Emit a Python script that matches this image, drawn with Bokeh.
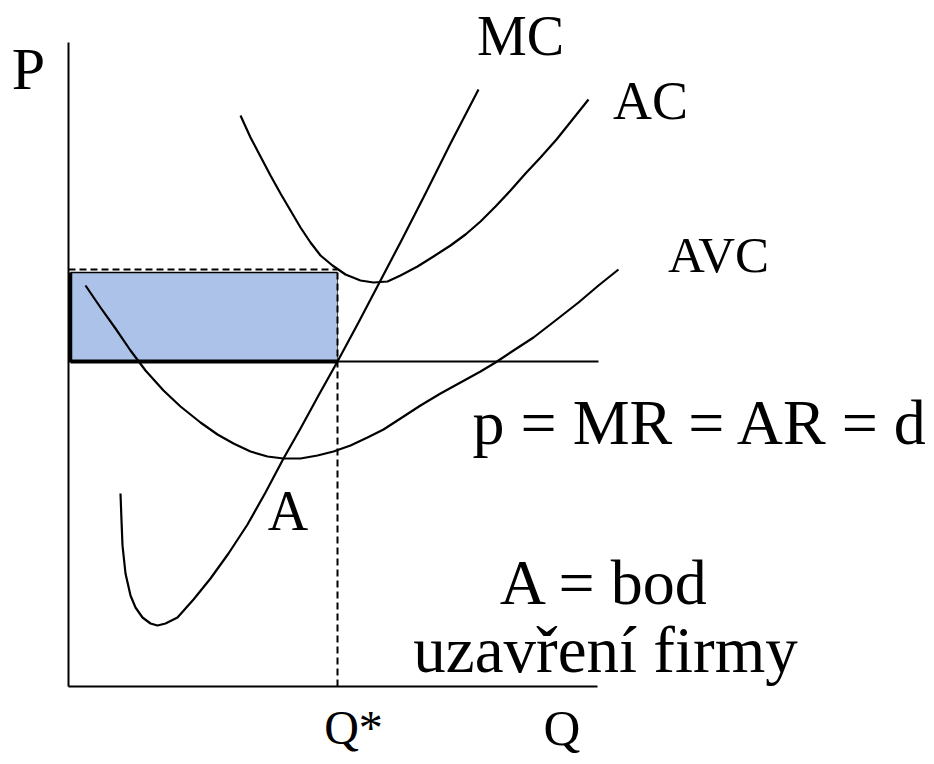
from bokeh.plotting import figure
from bokeh.models import Range1d
from bokeh.embed import file_html
from bokeh.resources import INLINE
from bokeh.core.properties import value

# ---- data (arbitrary units) ----
mc_q = [2.08, 2.12, 2.16, 2.28, 2.48, 2.68, 2.96, 3.28, 3.56, 3.88, 4.36, 5.00,
        5.68, 6.40, 7.16, 7.88, 8.60, 9.28, 10.00, 10.76, 11.60, 12.48, 13.36,
        14.28, 15.28, 16.40]
mc_p = [7.72, 6.64, 5.64, 4.52, 3.64, 3.16, 2.76, 2.52, 2.44, 2.52, 2.76, 3.48,
        4.32, 5.32, 6.48, 7.76, 9.12, 10.32, 11.64, 13.00, 14.56, 16.24, 17.92,
        19.72, 21.72, 23.88]

ac_q = [6.88, 7.28, 7.68, 8.08, 8.48, 8.88, 9.28, 9.68, 10.08, 10.56, 11.08,
        11.68, 12.20, 12.76, 13.28, 13.96, 14.60, 15.28, 15.88, 16.48, 17.08,
        17.68, 18.28, 18.88, 19.52, 20.16, 20.80]
ac_p = [22.84, 21.96, 21.20, 20.44, 19.72, 19.04, 18.36, 17.76, 17.24, 16.84,
        16.48, 16.24, 16.16, 16.20, 16.44, 16.80, 17.20, 17.64, 18.08, 18.60,
        19.20, 19.84, 20.52, 21.16, 21.88, 22.68, 23.48]

avc_q = [0.68, 1.28, 1.88, 2.48, 3.08, 3.80, 4.48, 5.28, 5.96, 6.60, 7.28, 7.96,
         8.60, 9.28, 9.96, 10.60, 11.28, 11.96, 12.60, 13.28, 14.08, 14.88,
         15.68, 16.48, 17.08, 17.80, 18.60, 19.48, 20.40, 21.20, 22.00]
avc_p = [16.04, 15.16, 14.32, 13.44, 12.64, 11.84, 11.20, 10.56, 10.08, 9.72,
         9.40, 9.20, 9.12, 9.12, 9.24, 9.40, 9.64, 9.96, 10.28, 10.72, 11.24,
         11.72, 12.16, 12.60, 12.96, 13.44, 13.96, 14.64, 15.36, 16.04, 16.68]

price = 13.0            # p = MR = AR = d
price_q_end = 21.20
q_star = 10.76          # Q*
ac_at_q_star = 16.56    # AC(Q*)  -> top of the loss rectangle
dash_top = 16.68
q_axis_end = 21.16
p_axis_end = 25.76

FONT = value("Liberation Serif")

W, H = 926, 760
# 1 unit = 25 px; origin of the diagram at page pixel (68, 686)
p = figure(width=W, height=H,
           x_range=Range1d(-68 * 0.04, (W - 68) * 0.04),
           y_range=Range1d((686 - H) * 0.04, 686 * 0.04),
           output_backend="svg", toolbar_location=None, min_border=0,
           x_axis_location=None, y_axis_location=None)
p.grid.visible = False
p.outline_line_color = None
p.background_fill_color = "white"
p.border_fill_color = "white"

# shaded loss rectangle
p.quad(left=[0.08], right=[q_star], bottom=[price], top=[ac_at_q_star],
       fill_color="#adc2e8", line_color=None)
p.line([0.08, q_star], [ac_at_q_star, ac_at_q_star], line_color="black", line_width=1.5)
p.line([0.08, 0.08], [price, ac_at_q_star], line_color="black", line_width=3.5)
p.line([q_star, q_star], [price, ac_at_q_star], line_color="#555555", line_width=1)
p.line([0, q_star], [dash_top, dash_top], line_color="black", line_width=2,
       line_dash="7 4")
p.line([q_star, q_star], [0, ac_at_q_star], line_color="black", line_width=2,
       line_dash="7 4")

# axes
p.line([0, 0], [0, p_axis_end], line_color="black", line_width=2)
p.line([0, q_axis_end], [0, 0], line_color="black", line_width=2)

# price line
p.line([0, price_q_end], [price, price], line_color="black", line_width=1.8)
p.line([0.08, q_star], [price, price], line_color="black", line_width=4)

# cost curves
for qs, ps in ((mc_q, mc_p), (ac_q, ac_p), (avc_q, avc_p)):
    p.line(qs, ps, line_color="black", line_width=2.2, line_join="round")

DY = 0.92  # baseline correction
def label(x, y, t, size):
    p.text(x=[x], y=[y + DY], text=[t], text_font=FONT, text_font_size=size,
           text_align="center", text_baseline="alphabetic", text_color="black")

label(-1.6, 23.80, "P", "60px")
label(18.08, 25.12, "MC", "56px")
label(23.28, 22.52, "AC", "54px")
label(26.0, 16.36, "AVC", "51px")
label(25.30, 9.64, "p = MR = AR = d", "64px")
label(8.78, 6.12, "A", "56px")
label(21.46, 3.24, "A = bod", "64px")
label(21.48, 0.56, "uzavření firmy", "65px")
label(11.40, -2.56, "Q*", "48px")
label(19.74, -2.56, "Q", "51px")

open("out.html", "w").write(file_html(p, INLINE))
